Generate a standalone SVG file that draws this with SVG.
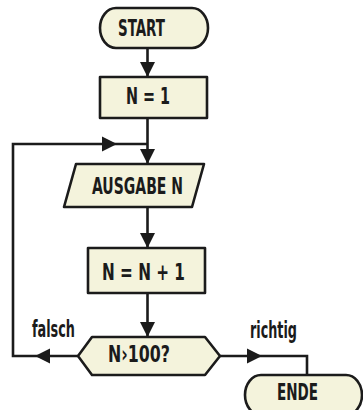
<svg xmlns="http://www.w3.org/2000/svg" xmlns:xlink="http://www.w3.org/1999/xlink" width="363" height="410" viewBox="0 0 363 410">
  <style>
    .shape { fill: #f4f3dc; stroke: #1b1b1b; stroke-width: 2.6; stroke-linejoin: round; }
    .line { fill: none; stroke: #1b1b1b; stroke-width: 2.6; stroke-linejoin: miter; }
    .lbl { font-family: "DejaVu Sans Condensed", "Liberation Sans", sans-serif; font-size: 23px; font-weight: bold; fill: #1b1b1b; }
  </style>
  <defs>
    <!-- filled arrowhead, tip at origin, pointing along +x -->
    <path id="ah" d="M0,0 L-15,-7.5 L-15,7.5 Z" fill="#1b1b1b"/>
  </defs>
  <rect width="363" height="410" fill="#ffffff"/>

  <g id="connectors">
    <path class="line" d="M147.5,48 V77"/>
    <use xlink:href="#ah" transform="translate(147.5,77) rotate(90)"/>
    <path class="line" d="M147.5,118 V164"/>
    <use xlink:href="#ah" transform="translate(147.5,164) rotate(90)"/>
    <path class="line" d="M147.5,207 V248"/>
    <use xlink:href="#ah" transform="translate(147.5,248) rotate(90)"/>
    <path class="line" d="M147.5,293 V337"/>
    <use xlink:href="#ah" transform="translate(147.5,337) rotate(90)"/>
    <!-- "falsch" branch loops back above AUSGABE N -->
    <path class="line" d="M78,356 H13 V144 H147.5"/>
    <use xlink:href="#ah" transform="translate(35,356) rotate(180)"/>
    <use xlink:href="#ah" transform="translate(117,144)"/>
    <!-- "richtig" branch to ENDE -->
    <path class="line" d="M220,356 H307 V375"/>
    <use xlink:href="#ah" transform="translate(262,356)"/>
    <text class="lbl" x="32" y="337" textLength="43" lengthAdjust="spacingAndGlyphs">falsch</text>
    <text class="lbl" x="250" y="338" textLength="47" lengthAdjust="spacingAndGlyphs">richtig</text>
  </g>

  <g id="start">
    <rect class="shape" x="100" y="8" width="108" height="40" rx="16" ry="20"/>
    <text class="lbl" x="118" y="36" textLength="47" lengthAdjust="spacingAndGlyphs">START</text>
  </g>

  <g id="init">
    <rect class="shape" x="100" y="77" width="107" height="41"/>
    <text class="lbl" x="126" y="104" textLength="44" lengthAdjust="spacingAndGlyphs">N = 1</text>
  </g>

  <g id="output">
    <path class="shape" d="M76,164 H204 L192,207 H64 Z"/>
    <text class="lbl" x="92" y="194" textLength="91" lengthAdjust="spacingAndGlyphs">AUSGABE N</text>
  </g>

  <g id="increment">
    <rect class="shape" x="88" y="248" width="117" height="45"/>
    <text class="lbl" x="102" y="280" textLength="83" lengthAdjust="spacingAndGlyphs">N = N + 1</text>
  </g>

  <g id="decision">
    <path class="shape" d="M78,356 L92,337 H205 L220,356 L205,375 H92 Z"/>
    <text class="lbl" x="108" y="362" textLength="62" lengthAdjust="spacingAndGlyphs">N›100?</text>
  </g>

  <g id="end">
    <rect class="shape" x="245" y="375" width="117" height="40" rx="16" ry="20"/>
    <text class="lbl" x="277" y="400" textLength="41" lengthAdjust="spacingAndGlyphs">ENDE</text>
  </g>
</svg>
